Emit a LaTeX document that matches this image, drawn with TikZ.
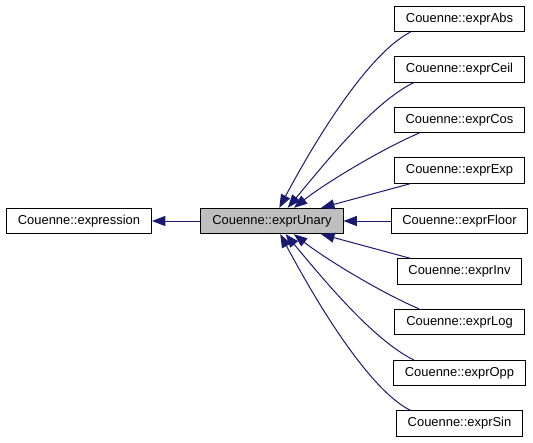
\documentclass[tikz,border=0pt]{standalone}
\usepackage{fontspec}
\setmainfont{Liberation Sans}
\usetikzlibrary{arrows.meta}
\definecolor{edgeblue}{RGB}{25,25,112}
\begin{document}
\begin{tikzpicture}[x=0.75pt, y=-0.75pt]
    \tikzset{
      cls/.style={draw, line width=0.75pt, fill=white, minimum height=19pt,
        inner xsep=8.5pt, inner ysep=0pt, font=\fontsize{9.7}{11}\selectfont},
      current/.style={cls, fill=black!25},
      derived/.style={draw=edgeblue, line width=0.75pt,
        arrows={-Triangle[length=10pt, width=7.5pt]}},
    }
    \useasboundingbox (0,0) rectangle (533,443);

    \node[cls] (expression) at (79,221) {Couenne::expression};
    \node[current] (unary) at (272,221) {Couenne::exprUnary};
    \path
    foreach \name/\y in {Abs/19,Ceil/69.5,Cos/120,Exp/170.5,Floor/221,
      Inv/271.5,Log/322,Opp/373,Sin/423.5} {
      (459.5,\y) node[cls] (\name) {Couenne::expr\name}
    };

    \draw[derived] (unary) -- (expression);
    \draw[derived] (Floor) -- (unary);
    \draw[derived] (Exp.195) -- (unary.15);
    \draw[derived] (Inv.165) -- (unary.345);
    \foreach \name/\s/\t/\ax/\ay/\bx/\by in {
      Abs/195/61/-36/18/47/-88,
      Ceil/196/40/-40.5/20/38.5/-46,
      Cos/198/31/-36.8/15.6/31.6/-24.8,
      Log/162/329/-36.8/-15.6/31.6/24.8,
      Opp/164/316/-40.5/-20/38.5/46,
      Sin/165/302/-36/-18/47/88%
    } { \draw[derived] (\name.\s) .. controls +(\ax,\ay) and +(\bx,\by) .. (unary.\t); }
  \end{tikzpicture}
\end{document}
